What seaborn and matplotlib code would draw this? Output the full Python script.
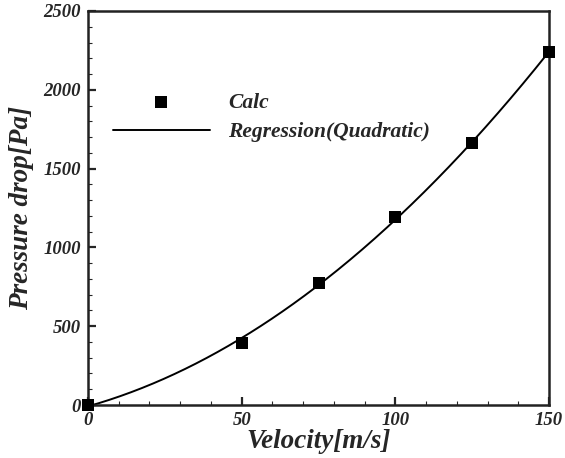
import numpy as np
import pandas as pd
import matplotlib
matplotlib.use("Agg")
import matplotlib.pyplot as plt
import seaborn as sns
from matplotlib.ticker import MultipleLocator

velocity = [0, 50, 75, 100, 125, 150]
pressure = [0, 393, 776, 1195, 1662, 2238]
x_ticks = [0, 50, 100, 150]
y_ticks = [0, 500, 1000, 1500, 2000, 2500]

sns.set_theme(style="ticks")
plt.rcParams['font.family'] = ['Liberation Serif', 'DejaVu Serif']

coef = np.polyfit(velocity, pressure, 2)
xf = np.linspace(0, 150, 300)
fit_df = pd.DataFrame({"v": xf, "p": np.polyval(coef, xf)})
pts_df = pd.DataFrame({"v": velocity, "p": pressure})

fig = plt.figure(figsize=(5.65, 4.58), dpi=100)
ax = fig.add_axes([88/565, 53/458, 461/565, 394/458])

sns.lineplot(data=fit_df, x="v", y="p", ax=ax, color="black", linewidth=1.4,
             label="Regression(Quadratic)", zorder=2)
sns.scatterplot(data=pts_df, x="v", y="p", ax=ax, color="black", marker="s",
                s=70, edgecolor="black", linewidth=0, label="Calc", zorder=3,
                clip_on=False)

ax.set_xlim(0, 150)
ax.set_ylim(0, 2500)
ax.set_xticks(x_ticks)
ax.set_yticks(y_ticks)
ax.xaxis.set_minor_locator(MultipleLocator(10))
ax.yaxis.set_minor_locator(MultipleLocator(100))
ax.tick_params(which="major", direction="in", length=6, width=1.6, labelsize=13.5, pad=5)
ax.tick_params(which="minor", direction="in", length=3, width=0.8)
for lab in ax.get_xticklabels() + ax.get_yticklabels():
    lab.set_fontweight("bold")
    lab.set_fontstyle("italic")
for sp in ax.spines.values():
    sp.set_linewidth(1.8)
    sp.set_color("#222222")

ax.set_xlabel("Velocity[m/s]", fontsize=19.5, fontweight="bold", fontstyle="italic", labelpad=0)
ax.set_ylabel("Pressure drop[Pa]", fontsize=19.5, fontweight="bold", fontstyle="italic", labelpad=7)

h, l = ax.get_legend_handles_labels()
order = [l.index("Calc"), l.index("Regression(Quadratic)")]
leg = ax.legend([h[i] for i in order], [l[i] for i in order], loc="upper left",
                bbox_to_anchor=(0.054, 0.792), frameon=False, borderpad=0,
                borderaxespad=0, handlelength=4.5, handletextpad=0.85,
                labelspacing=0.43, prop={"size": 15.5, "weight": "bold", "style": "italic"})

fig.savefig("out.png", dpi=100)
